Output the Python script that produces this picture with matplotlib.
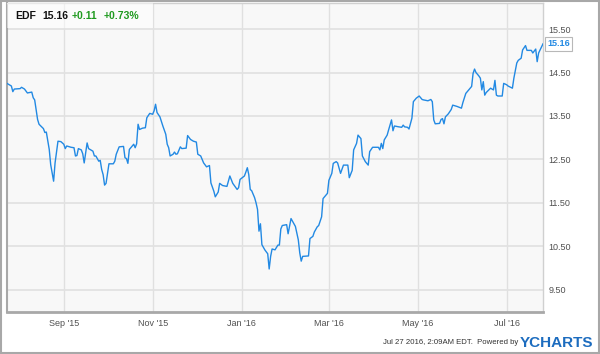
import matplotlib
matplotlib.use("Agg")
import matplotlib.pyplot as plt
import matplotlib.dates as mdates
import matplotlib.patches as mpatches
import pandas as pd

# ─── Data ─────────────────────────────────────────────────────────────────────

START = "2015-07-24"

day_offsets = [
    0, 3, 4, 5, 9, 10, 12, 14, 17, 18, 19, 21, 22, 25, 26, 27, 29, 30, 32, 33,
    35, 37, 39, 40, 41, 44, 46, 47, 48, 49, 51, 52, 53, 55, 56, 59, 60, 61, 63, 64,
    65, 66, 67, 68, 70, 73, 74, 75, 77, 80, 81, 82, 83, 84, 87, 88, 89, 90, 91, 93,
    95, 96, 98, 100, 101, 102, 103, 105, 107, 109, 110, 111, 112, 114, 115, 116, 117, 119, 120, 123,
    124, 126, 128, 130, 131, 133, 135, 137, 139, 140, 142, 143, 145, 146, 148, 151, 153, 155, 158, 159,
    160, 163, 164, 165, 166, 167, 168, 170, 171, 172, 173, 174, 175, 177, 179, 180, 181, 182, 184, 186,
    187, 188, 189, 192, 193, 195, 198, 200, 201, 202, 203, 207, 208, 210, 211, 213, 214, 216, 217, 219,
    220, 221, 223, 224, 226, 227, 229, 231, 234, 235, 237, 238, 240, 241, 243, 244, 246, 248, 249, 251,
    255, 256, 257, 258, 259, 261, 262, 264, 265, 266, 269, 271, 272, 273, 275, 276, 278, 279, 281, 283,
    285, 286, 289, 291, 292, 293, 294, 297, 298, 299, 300, 301, 303, 305, 306, 309, 312, 313, 315, 317,
    319, 320, 321, 322, 324, 325, 326, 327, 328, 329, 332, 334, 335, 336, 337, 340, 341, 343, 344, 347,
    348, 350, 351, 353, 354, 356, 357, 360, 361, 363, 364, 365, 366, 368,
]

prices = [
    14.25, 14.19, 14.06, 14.12, 14.13, 14.16, 14.12, 14.03, 14.05, 13.92, 13.87, 13.42, 13.31, 13.21, 13.12, 13.13, 12.73, 12.38, 12.00, 12.42,
    12.92, 12.91, 12.85, 12.75, 12.81, 12.78, 12.77, 12.58, 12.59, 12.75, 12.72, 12.63, 12.42, 12.88, 12.75, 12.69, 12.58, 12.58, 12.46, 12.48,
    12.27, 12.15, 11.91, 11.95, 12.40, 12.40, 12.46, 12.62, 12.79, 12.80, 12.54, 12.52, 12.41, 12.73, 12.85, 12.77, 12.86, 13.31, 13.19, 13.22,
    13.23, 13.46, 13.56, 13.54, 13.62, 13.77, 13.58, 13.48, 13.27, 13.08, 12.85, 12.77, 12.58, 12.62, 12.67, 12.62, 12.63, 12.79, 12.75, 12.76,
    13.05, 12.96, 12.92, 12.90, 12.62, 12.58, 12.42, 12.33, 12.36, 11.96, 11.77, 11.64, 11.75, 11.95, 11.90, 11.88, 12.12, 11.95, 11.81, 11.85,
    12.04, 12.12, 12.21, 12.31, 12.15, 11.81, 11.78, 11.62, 11.50, 11.35, 10.85, 11.02, 10.54, 10.42, 10.33, 9.98, 10.27, 10.44, 10.42, 10.53,
    10.53, 10.90, 10.98, 11.00, 10.79, 11.14, 10.96, 10.65, 10.35, 10.16, 10.27, 10.28, 10.68, 10.73, 10.83, 10.95, 10.98, 11.18, 11.60, 11.68,
    11.72, 12.02, 12.18, 12.41, 12.45, 12.42, 12.18, 12.37, 12.37, 12.08, 12.25, 12.72, 12.87, 13.06, 12.98, 12.58, 12.45, 12.37, 12.68, 12.78,
    12.78, 12.72, 12.87, 12.75, 12.95, 13.06, 13.18, 13.41, 13.16, 13.27, 13.25, 13.24, 13.29, 13.25, 13.24, 13.20, 13.45, 13.83, 13.91, 13.96,
    13.88, 13.87, 13.85, 13.88, 13.83, 13.41, 13.32, 13.33, 13.42, 13.44, 13.32, 13.48, 13.55, 13.65, 13.75, 13.72, 13.68, 13.81, 14.02, 14.10,
    14.18, 14.48, 14.58, 14.50, 14.42, 14.37, 14.10, 14.29, 13.98, 14.04, 14.14, 14.10, 14.32, 13.98, 13.96, 13.96, 14.25, 14.22, 14.19, 14.14,
    14.37, 14.72, 14.78, 14.83, 15.02, 15.12, 15.01, 15.01, 14.95, 15.04, 14.75, 14.95, 15.02, 15.16,
]

y_ticks = [9.5, 10.5, 11.5, 12.5, 13.5, 14.5, 15.5]
x_ticks = ["2015-09-01", "2015-11-01", "2016-01-01", "2016-03-01", "2016-05-01", "2016-07-01"]

TICKER = "EDF"
LAST = "15.16"
CHANGE = "+0.11"
CHANGE_PCT = "+0.73%"
STAMP = "Jul 27 2016, 2:09AM EDT.  Powered by"

# ─── Style ────────────────────────────────────────────────────────────────────

LINE = "#2289e3"
GREEN = "#1f9a1f"
TICK = "#505050"
GRID = "#e2e2e2"
BRAND = "#1c6cbf"

plt.rcParams["font.family"] = ["Liberation Sans", "DejaVu Sans"]

dates = pd.to_datetime(START) + pd.to_timedelta(day_offsets, unit="D")

fig = plt.figure(figsize=(6.0, 3.54), dpi=100)
ax = fig.add_axes([7 / 600, 1 - 312 / 354, 536 / 600, 309 / 354])
ax.set_facecolor("#f8f8f8")

ax.plot(dates, prices, color=LINE, linewidth=1.0, zorder=3)

ax.set_xlim(dates[0], dates[-1])
ax.set_ylim(8.99, 16.1)

ax.set_yticks(y_ticks)
ax.yaxis.set_major_formatter(matplotlib.ticker.FormatStrFormatter("%.2f"))
ax.yaxis.tick_right()
ax.set_xticks(pd.to_datetime(x_ticks))
ax.xaxis.set_major_formatter(mdates.DateFormatter("%b '%y"))
ax.tick_params(axis="both", length=0, labelsize=6.5, labelcolor=TICK)
ax.tick_params(axis="y", pad=4)
ax.tick_params(axis="x", pad=5)

ax.grid(axis="y", color=GRID, linewidth=1.3)
ax.grid(axis="x", color="#e0e0e0", linewidth=1.0)
ax.set_axisbelow(True)

for side in ["top", "right"]:
    ax.spines[side].set_color("#d0d0d0")
    ax.spines[side].set_linewidth(1.0)
ax.spines["left"].set_color("#a8a8a8")
ax.spines["left"].set_linewidth(1.5)
ax.spines["bottom"].set_color("#a8a8a8")
ax.spines["bottom"].set_linewidth(2.0)

# last value tag
ax.text(1.008, prices[-1], LAST, transform=ax.get_yaxis_transform(),
        ha="left", va="center", fontsize=6.5, fontweight="bold", color=LINE,
        bbox=dict(boxstyle="square,pad=0.25", fc="white", ec="#b8b8b8", lw=0.8),
        clip_on=False, zorder=5)

# header box
fig.patches.append(mpatches.Rectangle((7 / 600, 1 - 28 / 354), 146 / 600, 25 / 354,
                                      transform=fig.transFigure, fc="white", ec="none",
                                      alpha=0.5, zorder=1))
hy = 1 - 16 / 354
fig.text(15 / 600, hy, TICKER, fontsize=7.5, fontweight="bold", color="#111111", va="center")
fig.text(42 / 600, hy, LAST, fontsize=7.5, fontweight="bold", color="#111111", va="center")
fig.text(72 / 600, hy, CHANGE, fontsize=7.5, fontweight="bold", color=GREEN, va="center")
fig.text(104 / 600, hy, CHANGE_PCT, fontsize=7.5, fontweight="bold", color=GREEN, va="center")

# footer
fy = 1 - 343 / 354
fig.text(518 / 600, fy, STAMP, fontsize=5.6, color="#333333", ha="right", va="center")
fig.text(520 / 600, fy, "YCHARTS", fontsize=11, fontweight="bold", color=BRAND,
         ha="left", va="center")

# outer frame
fig.patches.append(mpatches.Rectangle((0.0015, 0.0025), 0.997, 0.995, transform=fig.transFigure,
                                      fill=False, ec="#a8a8a8", lw=1.5, zorder=2))

fig.savefig("out.png", dpi=100)
